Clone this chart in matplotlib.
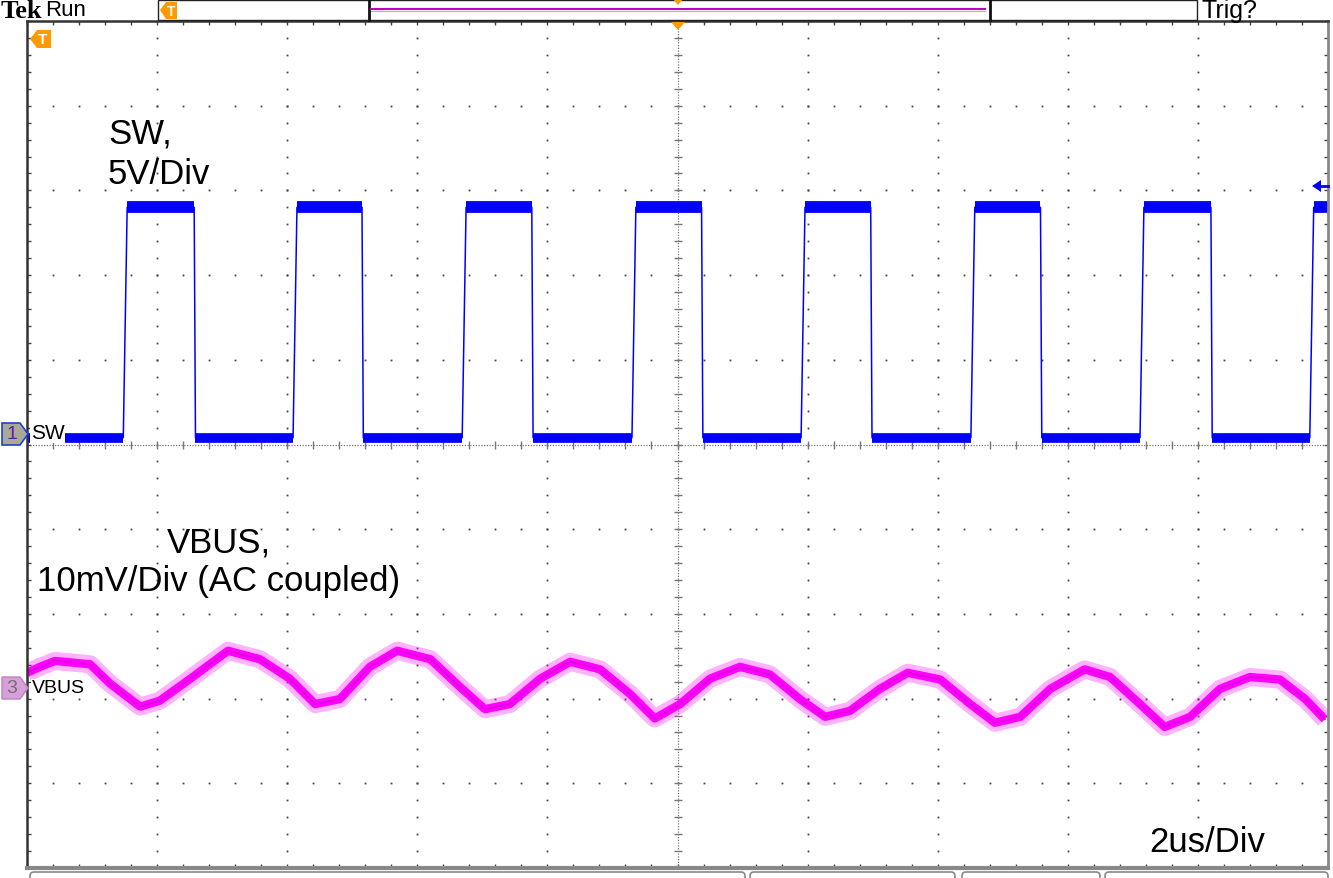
import numpy as np
import matplotlib
matplotlib.use("Agg")
from matplotlib import pyplot as plt
from matplotlib.patches import Polygon, Rectangle, FancyBboxPatch

plt.rcParams["font.family"] = ["Liberation Sans", "DejaVu Sans"]

# ch1 SW: switching edges (us) and levels (V)
sw_rise_us = [1.48, 4.09, 6.69, 9.30, 11.90, 14.51, 17.11, 19.72]
sw_fall_us = [2.57, 5.15, 7.76, 10.37, 12.97, 15.58, 18.20]
sw_high_v = 13.6
sw_low_v = 0.0

# ch3 VBUS ripple, AC coupled (mV)
vbus_t_us = [0.00, 0.20, 0.43, 0.97, 1.28, 1.74, 2.04, 2.51, 3.09, 3.58, 4.04, 4.43,
             4.81, 5.27, 5.69, 6.20, 6.66, 7.04, 7.42, 7.89, 8.35, 8.81, 9.27, 9.65,
             10.04, 10.50, 10.96, 11.42, 11.88, 12.27, 12.65, 13.11, 13.54, 14.04, 14.50,
             14.88, 15.27, 15.73, 16.26, 16.65, 17.11, 17.49, 17.88, 18.34, 18.80, 19.26,
             19.65, 19.95]
vbus_mv = [1.8, 2.5, 3.2, 2.8, 0.5, -2.2, -1.5, 1.1, 4.4, 3.4, 1.1, -1.9,
           -1.3, 2.5, 4.4, 3.4, 0.1, -2.5, -1.9, 1.1, 3.1, 2.2, -0.7, -3.6,
           -1.9, 1.1, 2.5, 1.6, -1.3, -3.4, -2.7, -0.1, 1.8, 1.0, -1.9,
           -4.1, -3.4, -0.1, 2.2, 1.3, -1.9, -4.6, -3.4, -0.1, 1.3, 1.0,
           -1.3, -3.7]

SW_V_PER_DIV = 5.0
VBUS_MV_PER_DIV = 10.0
SW_OFFSET_DIV = 0.08
VBUS_OFFSET_DIV = -2.875
T_END = 20.0

W, H = 1333, 879
fig = plt.figure(figsize=(W / 100, H / 100), dpi=100, facecolor="white")
L, R, T, B = 27, 1328, 22, 869
ax = fig.add_axes([L / W, (H - B) / H, (R - L) / W, (B - T) / H])
ax.set_xlim(0, T_END)
ax.set_ylim(-5, 5)

# graticule
dot_c = "#444444"
ymin = np.arange(-5, 5.001, 0.2)
xmin = np.arange(0, T_END + 0.001, 0.4)
for xv in [2, 4, 6, 8, 12, 14, 16, 18]:
    ax.plot(np.full_like(ymin, xv), ymin, ls="none", marker="s", ms=1.3, color=dot_c, mew=0)
for yv in [-4, -3, -2, -1, 1, 2, 3, 4]:
    ax.plot(xmin, np.full_like(xmin, yv), ls="none", marker="s", ms=1.3, color=dot_c, mew=0)
ax.axvline(10, color="#777777", lw=0.9, ls=(0, (1, 1.2)))
ax.axhline(0, color="#777777", lw=0.9, ls=(0, (1, 1.2)))
ax.plot(np.full_like(ymin, 10), ymin, ls="none", marker="_", ms=6, mew=1, color="#777777")
ax.plot(xmin, np.zeros_like(xmin), ls="none", marker="|", ms=6, mew=1, color="#777777")

ax.set_xticks(np.arange(0, T_END + 0.001, 2))
ax.set_xticks(xmin, minor=True)
ax.set_yticks(np.arange(-5, 6, 1))
ax.set_yticks(ymin, minor=True)
ax.tick_params(which="both", direction="in", length=3, width=1, color="#444444",
               top=True, right=True, labelbottom=False, labelleft=False)
for side, c, w in [("left", "#333333", 1.8), ("top", "#333333", 1.8),
                   ("bottom", "#888888", 3), ("right", "#888888", 2)]:
    ax.spines[side].set_color(c)
    ax.spines[side].set_linewidth(w)

# SW trace
edge = 0.06
sw_t, sw_v = [0.0], [sw_low_v]
for i, r in enumerate(sw_rise_us):
    sw_t += [r, r + edge]
    sw_v += [sw_low_v, sw_high_v]
    if i < len(sw_fall_us):
        f = sw_fall_us[i]
        sw_t += [f, f + 0.02]
        sw_v += [sw_high_v, sw_low_v]
sw_t.append(T_END)
sw_v.append(sw_high_v)
sw_y = SW_OFFSET_DIV + np.array(sw_v) / SW_V_PER_DIV
blue = "#0000ff"
ax.plot(sw_t, sw_y, color=blue, lw=1.1)
yh = SW_OFFSET_DIV + sw_high_v / SW_V_PER_DIV
yl = SW_OFFSET_DIV + sw_low_v / SW_V_PER_DIV
lows_start = [0.0] + [f + 0.02 for f in sw_fall_us]
for a, b in zip(lows_start, sw_rise_us):
    ax.plot([a, b], [yl, yl], color=blue, lw=7, solid_capstyle="butt")
highs_end = sw_fall_us + [T_END]
for r, b in zip(sw_rise_us, highs_end):
    ax.plot([r + edge, b], [yh, yh], color=blue, lw=8.5, solid_capstyle="butt")

# VBUS trace: noise spread + core
vbus_y = VBUS_OFFSET_DIV + np.array(vbus_mv) / VBUS_MV_PER_DIV
ax.plot(vbus_t_us, vbus_y, color="#ff00ff", lw=13, alpha=0.3, solid_joinstyle="round",
        solid_capstyle="butt")
ax.plot(vbus_t_us, vbus_y, color="#ff00ff", lw=6, solid_joinstyle="round",
        solid_capstyle="butt")
ax.plot(vbus_t_us, vbus_y, color="#e000e0", lw=1.2)

# overlay in screen pixels for scope chrome
ov = fig.add_axes([0, 0, 1, 1], zorder=5)
ov.set_xlim(0, W)
ov.set_ylim(H, 0)
ov.axis("off")

orange = "#ff9900"
ov.text(1, 11, "Tek", fontsize=19, fontweight="bold", family="Liberation Serif",
        va="center", ha="left")
ov.text(45, 11, "Run", fontsize=16, va="center", ha="left")
ov.text(1201, 11, "Trig?", fontsize=18, va="center", ha="left")
ov.add_patch(Rectangle((158, 1), 1039, 20, fc="white", ec="#222222", lw=1))
ov.plot([369, 369], [1, 21], color="#111111", lw=2)
ov.plot([990, 990], [1, 21], color="#111111", lw=2)
ov.plot([371, 985], [10, 10], color="#c000c0", lw=1.5)
ov.plot([371, 985], [11.5, 11.5], color="#c8a0e0", lw=0.8)
ov.add_patch(Polygon([[673, 0], [683, 0], [678, 6]], fc=orange, ec="none"))
ov.add_patch(Polygon([[160, 11], [166, 3], [177, 3], [177, 20], [166, 20]], fc=orange, ec="none"))
ov.text(171, 11.5, "T", fontsize=10, color="white", fontweight="bold", ha="center", va="center")
ov.add_patch(Polygon([[30, 40], [37, 31], [51, 31], [51, 49], [37, 49]], fc=orange, ec="none"))
ov.text(43, 40, "T", fontsize=11, color="white", fontweight="bold", ha="center", va="center")
ov.add_patch(Polygon([[671, 23], [685, 23], [678, 31]], fc=orange, ec="none"))

# trigger level arrow
ov.add_patch(Polygon([[1312, 187], [1321, 181], [1321, 193]], fc=blue, ec="none"))
ov.plot([1318, 1328], [187, 187], color=blue, lw=2)

# channel markers
ov.add_patch(Polygon([[2, 424], [20, 424], [28, 435], [20, 446], [2, 446]],
                     fc="#a9a99a", ec="#2040d0", lw=1.2))
ov.text(12, 435, "1", fontsize=14, color="#6020a0", ha="center", va="center")
ov.text(31, 434, "SW", fontsize=15, ha="left", va="center",
        bbox=dict(fc="white", ec="none", pad=0.5))
ov.add_patch(Polygon([[2, 678], [20, 678], [28, 689], [20, 700], [2, 700]],
                     fc="#d8a0d8", ec="#c080c0", lw=1))
ov.text(12, 689, "3", fontsize=14, color="#707070", ha="center", va="center")
ov.text(32, 689, "VBUS", fontsize=14, ha="left", va="center",
        bbox=dict(fc="white", ec="none", pad=0.5))

# annotation texts
ov.text(108, 154, "SW,\n5V/Div", fontsize=25, ha="left", va="center", linespacing=1.3)
ov.text(219, 562, "VBUS,\n10mV/Div (AC coupled)", fontsize=25, ha="center", va="center",
        linespacing=1.2)
ov.text(1207, 843, "2us/Div", fontsize=25, ha="center", va="center")

# readout boxes at bottom edge
for x0, x1 in [(30, 745), (750, 955), (962, 1100), (1105, 1328)]:
    ov.add_patch(FancyBboxPatch((x0, 873), x1 - x0, 20, boxstyle="round,pad=0,rounding_size=4",
                                fc="white", ec="#888888", lw=1.2))

fig.savefig("out.png", dpi=100, facecolor="white")
